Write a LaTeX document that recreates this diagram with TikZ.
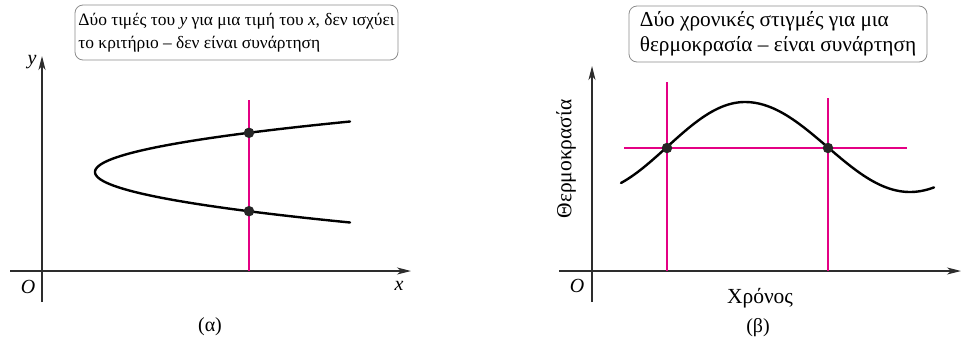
\documentclass[tikz,border=0pt]{standalone}
\usepackage{fontspec}
\setmainfont{Liberation Serif}
\usetikzlibrary{arrows.meta}
\definecolor{mag}{RGB}{228,0,132}
\definecolor{axisgray}{RGB}{45,45,45}
\tikzset{
  axis/.style={line width=1.1pt, draw=axisgray, -{Stealth[length=14pt,width=7pt,inset=4pt]}},
  curve/.style={line width=2.4pt, line cap=round},
  guide/.style={line width=1.1pt, draw=mag},
  dot/.style={circle, fill=black!85, inner sep=0pt, minimum size=10.5pt},
  note/.style={draw=black!45, line width=0.8pt, rounded corners=8pt, align=left, inner sep=0pt,
    font=\fontsize{17.4}{23}\selectfont},
  lbl/.style={inner sep=0pt, font=\fontsize{20}{24}\selectfont},
  axlbl/.style={inner sep=0pt, font=\fontsize{21.5}{26}\selectfont}
}
\begin{document}
\begin{tikzpicture}[line join=round, x=1pt, y=-1pt]
  \useasboundingbox (0,0) rectangle (962,341);
  % --- (a) not a function ---
  \coordinate (ya0) at (42,302);
  \coordinate (ya1) at (42,56);
  \coordinate (xa0) at (10,271);
  \coordinate (xa1) at (411,271);
  \draw[axis] (ya0) -- (ya1);
  \draw[axis] (xa0) -- (xa1);
  \node[lbl] (ylab) at (32,62) {\textit{y}};
  \node[lbl] (xlab) at (399,286) {\textit{x}};
  \node[lbl] (oa) at (28,287) {\textit{O}};
  \coordinate (va0) at (249,100);
  \coordinate (va1) at (249,271);
  \draw[guide] (va0) -- (va1);
  \draw[curve] plot[domain=-50.5:50.5, samples=80] ({95+0.1*\x*\x},{172+\x});
  \node[dot] (pa1) at (249,132.8) {};
  \node[dot] (pa2) at (249,211.2) {};
  \node[note, minimum width=323pt, minimum height=55pt] (boxa) at (236.5,32.5)
    {Δύο τιμές του \textit{y} για μια τιμή του \textit{x}, δεν ισχύει\\το κριτήριο – δεν είναι συνάρτηση};
  \node[lbl] (capa) at (210,327) {(α)};
  % --- (b) a function ---
  \coordinate (yb0) at (592,302);
  \coordinate (yb1) at (592,66);
  \coordinate (xb0) at (559,271);
  \coordinate (xb1) at (961,271);
  \draw[axis] (yb0) -- (yb1);
  \draw[axis] (xb0) -- (xb1);
  \node[lbl] (ob) at (577,286) {\textit{O}};
  \node[axlbl] (tlab) at (760,298) {Χρόνος};
  \node[axlbl, rotate=90] (thlab) at (566,159) {Θερμοκρασία};
  \coordinate (v1a) at (667,82);
  \coordinate (v1b) at (667,271);
  \coordinate (v2a) at (828,98);
  \coordinate (v2b) at (828,271);
  \coordinate (ha) at (624,148);
  \coordinate (hb) at (907,148);
  \draw[guide] (v1a) -- (v1b);
  \draw[guide] (v2a) -- (v2b);
  \draw[guide] (ha) -- (hb);
  \draw[curve] plot[domain=621:745, samples=50] (\x,{147-45*cos((\x-745)*1.153846)})
    -- plot[domain=745:934, samples=60] (\x,{147-45*cos((\x-745)*1.090909)});
  \node[dot] (pb1) at (667,148) {};
  \node[dot] (pb2) at (828,148) {};
  \node[note, minimum width=298pt, minimum height=56pt, font=\fontsize{21.3}{24.5}\selectfont] (boxb) at (778,34)
    {Δύο χρονικές στιγμές για μια\\θερμοκρασία – είναι συνάρτηση};
  \node[lbl] (capb) at (758,328) {(β)};
\end{tikzpicture}
\end{document}
